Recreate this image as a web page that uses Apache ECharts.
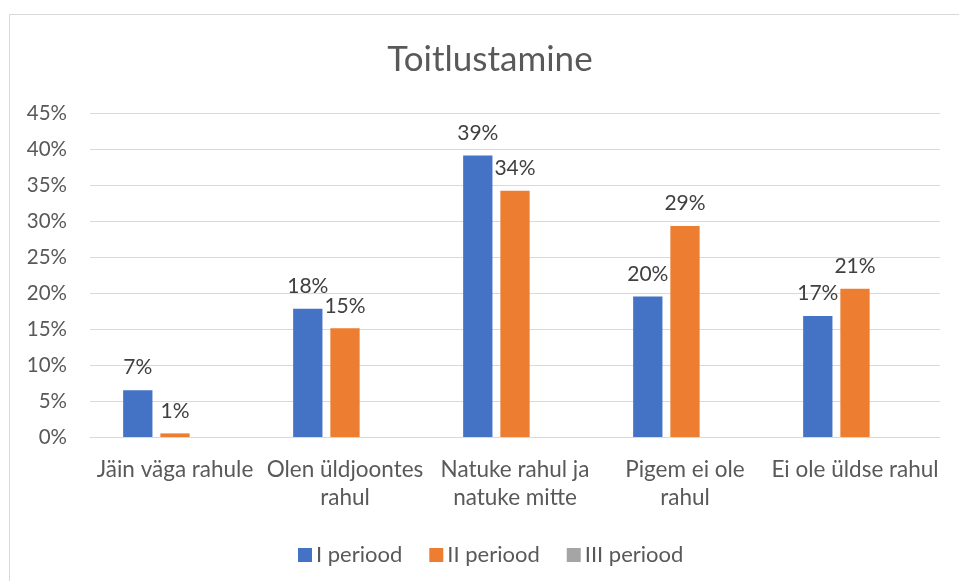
<!DOCTYPE html>
<html>
<head>
<meta charset="utf-8">
<script src="https://cdn.jsdelivr.net/npm/echarts@6/dist/echarts.min.js"></script>
<style>html,body{margin:0;padding:0;background:#fff;}#c{width:959px;height:581px;}</style>
</head>
<body>
<div id="c"></div>
<script>
const title = 'Toitlustamine';
const categories = ['Jäin väga rahule', 'Olen üldjoontes\nrahul', 'Natuke rahul ja\nnatuke mitte', 'Pigem ei ole\nrahul', 'Ei ole üldse rahul'];
const seriesNames = ['I periood', 'II periood', 'III periood'];
const period1 = [6.5, 17.8, 39.1, 19.5, 16.8];
const period2 = [0.5, 15.1, 34.2, 29.3, 20.6];
const period3 = [null, null, null, null, null];
const yTicks = [0, 5, 10, 15, 20, 25, 30, 35, 40, 45];
const colors = ['#4472C4', '#ED7D31', '#A5A5A5'];

const FONT = 'Lato';
const chart = echarts.init(document.getElementById('c'), null, {renderer: 'canvas'});
const mk = (name, data, color) => ({
  name, type: 'bar', data,
  itemStyle: {color},
  barGap: '27%', barCategoryGap: '39%',
  label: {
    show: true, position: 'top', distance: 12,
    color: '#404040', fontFamily: FONT, fontSize: 21,
    formatter: p => Math.round(p.value) + '%'
  }
});
chart.setOption({
  animation: false,
  graphic: [{type: 'rect', shape: {x: 9.5, y: 14.5, width: 1000, height: 1000}, style: {fill: 'none', stroke: '#d9d9d9', lineWidth: 1}}],
  title: {text: title, left: 485, top: 37, textAlign: 'center',
    textStyle: {fontFamily: FONT, fontSize: 35, fontWeight: 'normal', color: '#595959'}},
  legend: {left: 293, top: 539, itemWidth: 14, itemHeight: 14, itemGap: 27,
    icon: 'rect', textStyle: {fontFamily: FONT, fontSize: 22, color: '#595959', padding: [0, 0, 0, -1]},
    data: seriesNames},
  grid: {left: 90, right: 19, top: 113, bottom: 144},
  xAxis: {type: 'category', data: categories,
    axisLine: {lineStyle: {color: '#d9d9d9'}}, axisTick: {show: false},
    axisLabel: {color: '#595959', fontFamily: FONT, fontSize: 22.5, lineHeight: 28, margin: 19, interval: 0}},
  yAxis: {type: 'value', min: yTicks[0], max: yTicks[yTicks.length - 1], interval: 5,
    axisLine: {show: false}, axisTick: {show: false},
    splitLine: {lineStyle: {color: '#d9d9d9'}},
    axisLabel: {color: '#595959', fontFamily: FONT, fontSize: 20.5, margin: 23, formatter: v => v + '%'}},
  series: [mk(seriesNames[0], period1, colors[0]), mk(seriesNames[1], period2, colors[1]), mk(seriesNames[2], period3, colors[2])]
});
</script>
</body>
</html>
